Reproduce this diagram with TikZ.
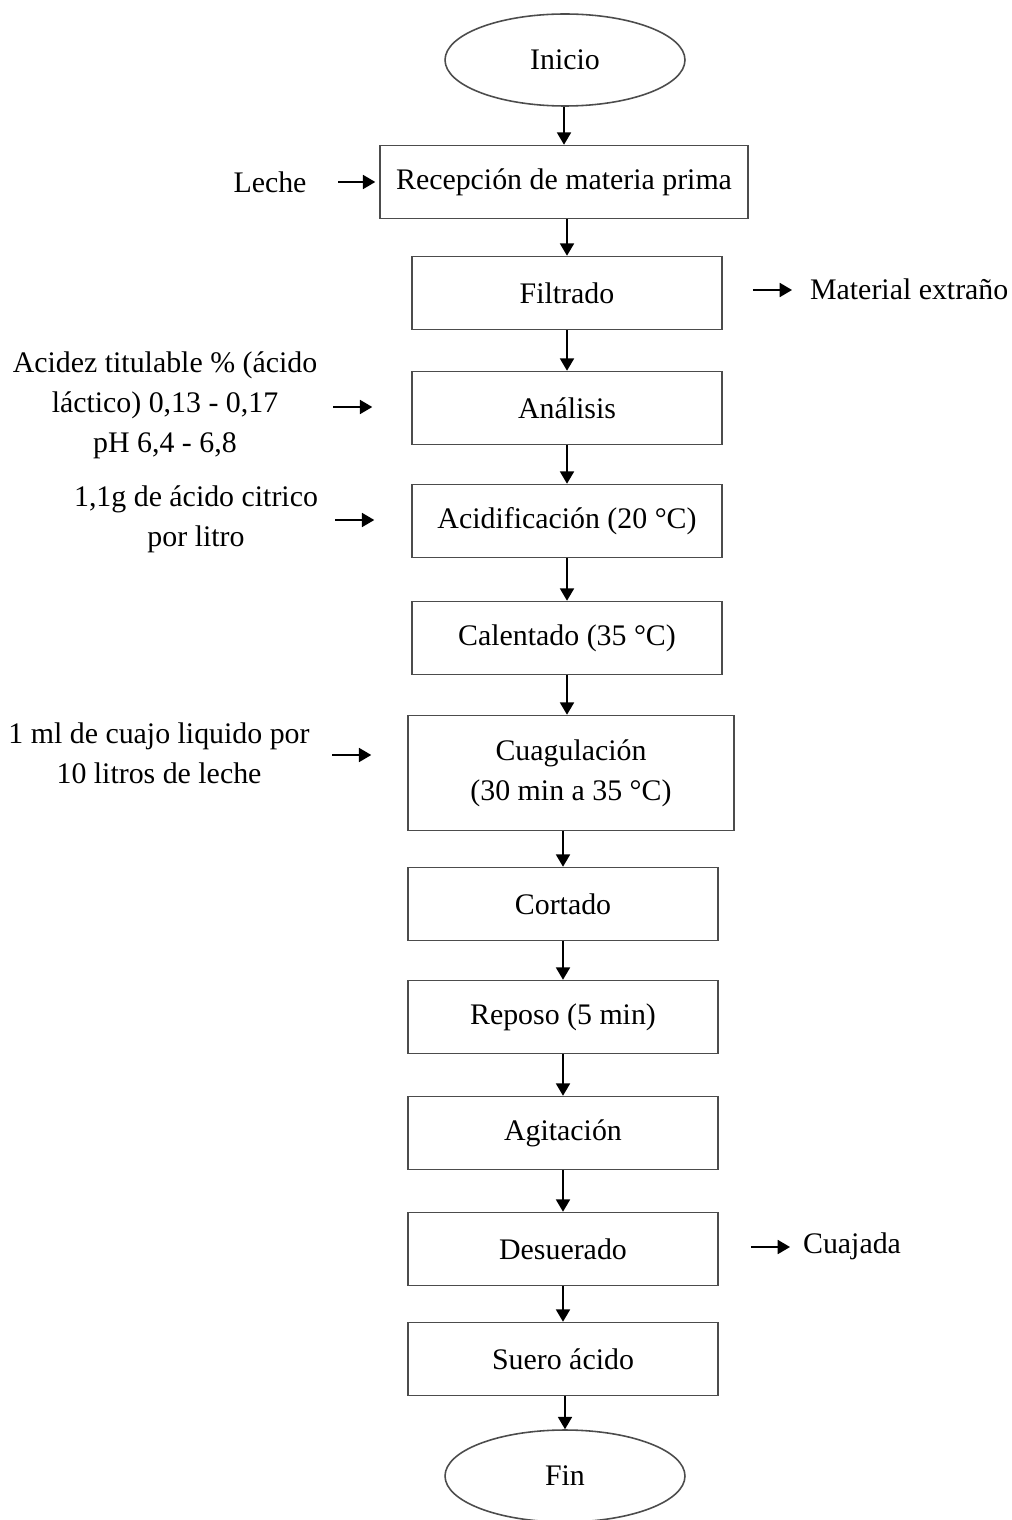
\documentclass[tikz,border=0pt]{standalone}
\usepackage{fontspec}
\setmainfont{Liberation Serif}
\usetikzlibrary{shapes.geometric,arrows.meta}
\begin{document}
\begin{tikzpicture}[x=0.02cm,y=-0.02cm,
	every node/.style={font=\fontsize{17}{22.7}\selectfont,inner sep=1},
	box/.style={rectangle,draw=black!70,line width=0.9pt,
	minimum width=6.2cm,minimum height=1.46cm,align=center},
	term/.style={ellipse,draw=black!70,line width=0.9pt,
	minimum width=4.8cm,minimum height=1.84cm},
	note/.style={align=center},
	flow/.style={-{Triangle[length=7pt,width=8pt]},line width=0.9pt}]
\useasboundingbox (0,0) rectangle (1011,1520);
% main line
\node[term] (inicio) at (565,60) {Inicio};
\node[box,minimum width=7.36cm] (recepcion) at (564,182) {Recepción de materia prima};
\node[box] (filtrado) at (567,293) {Filtrado};
\node[box] (analisis) at (567,408) {Análisis};
\node[box] (acidif) at (567,521) {Acidificación (20 °C)};
\node[box] (calentado) at (567,638) {Calentado (35 °C)};
\node[box,minimum width=6.52cm,minimum height=2.3cm] (cuagul) at (571,773) {Cuagulación\\(30 min a 35 °C)};
\node[box] (cortado) at (563,904) {Cortado};
\node[box] (reposo) at (563,1017) {Reposo (5 min)};
\node[box] (agitacion) at (563,1133) {Agitación};
\node[box] (desuerado) at (563,1249) {Desuerado};
\node[box] (suero) at (563,1359) {Suero ácido};
\node[term] (fin) at (565,1476) {Fin};
\foreach \a/\b in {inicio/recepcion,recepcion/filtrado,filtrado/analisis,
	analisis/acidif,acidif/calentado,cuagul/cortado,
	cortado/reposo,reposo/agitacion,agitacion/desuerado,desuerado/suero,suero/fin}
	\draw[flow] (\a.south -| \b.north) -- (\b.north);
\draw[flow] (calentado.south) -- (calentado.south |- cuagul.north);
% inputs
\node[note] (leche) at (270,182) {Leche};
\node[note] (acidez) at (165,405) {Acidez titulable \% (ácido\\láctico) 0,13 - 0,17\\pH 6,4 - 6,8};
\node[note] (citrico) at (196,519) {1,1g de ácido citrico\\por litro};
\node[note] (cuajo) at (159,753) {1 ml de cuajo liquido por\\10 litros de leche};
\coordinate (in1) at (338,182);
\coordinate (in2) at (333,407);
\coordinate (in3) at (335,520);
\coordinate (in4) at (332,755);
\draw[flow,shorten >=0.08cm] (in1) -- (in1 -| recepcion.west);
\draw[flow,shorten >=0.78cm] (in2) -- (in2 -| analisis.west);
\draw[flow,shorten >=0.74cm] (in3) -- (in3 -| acidif.west);
\draw[flow,shorten >=0.72cm] (in4) -- (in4 -| cuagul.west);
% outputs
\node[note,anchor=west] (extrano) at (808,289) {Material extraño};
\node[note,anchor=west] (cuajada) at (801,1246) {Cuajada};
\coordinate (out1) at (792,290);
\coordinate (out2) at (790,1247);
\draw[flow,shorten <=0.6cm] (out1 -| filtrado.east) -- (out1);
\draw[flow,shorten <=0.64cm] (out2 -| desuerado.east) -- (out2);
\end{tikzpicture}
\end{document}
